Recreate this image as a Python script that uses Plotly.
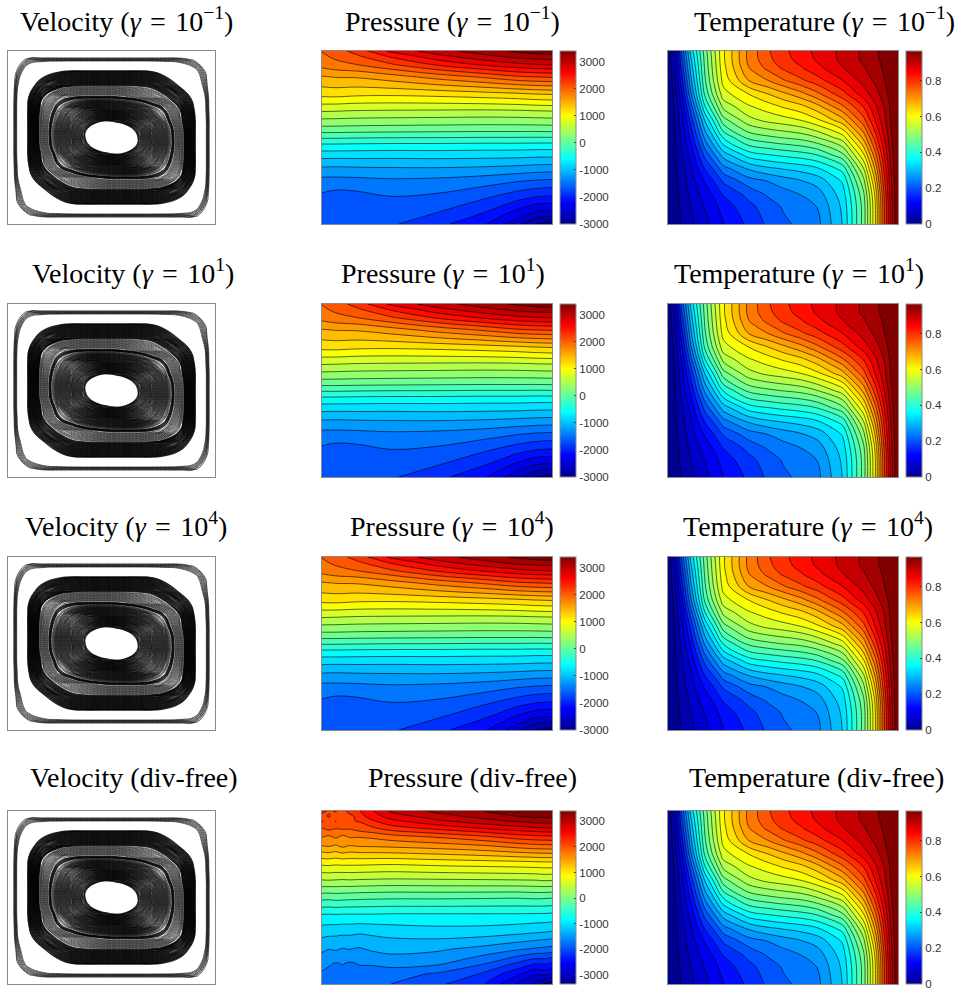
import plotly.graph_objects as go

W, H = 971, 992

# ---------- data ----------
PX = [0, .06, .15, .3, .5, .7, .85, .93, 1]
PY = [0, .03, .08, .15, .25, .35, .45, .55, .65, .75, .85, .93, 1]
PRESSURE = [
    [1950, 2050, 2250, 2650, 2950, 3150, 3300, 3370, 3400],
    [1900, 1990, 2120, 2420, 2750, 2980, 3120, 3160, 3180],
    [1800, 1870, 1930, 2120, 2400, 2620, 2750, 2800, 2820],
    [1480, 1510, 1520, 1620, 1800, 1970, 2120, 2160, 2180],
    [1130, 1140, 1110, 1100, 1130, 1180, 1230, 1270, 1290],
    [620, 610, 590, 580, 570, 560, 570, 590, 600],
    [100, 100, 90, 80, 70, 60, 60, 60, 70],
    [-560, -560, -570, -580, -580, -590, -590, -600, -600],
    [-1060, -1070, -1060, -1060, -1050, -1060, -1080, -1100, -1110],
    [-1440, -1440, -1430, -1400, -1420, -1480, -1560, -1600, -1620],
    [-1640, -1700, -1680, -1600, -1640, -1780, -1960, -2050, -2080],
    [-1700, -1740, -1720, -1680, -1790, -2000, -2300, -2470, -2500],
    [-1750, -1760, -1720, -1770, -1950, -2200, -2600, -2900, -3000],
]
DX = [0, .03, .06, .09, .12, .16, .22, .3, .5, .7, .85, .93, .97, 1]
DY = [0, .03, .06, .1, .15, .2, .3, .4, .5, .6, .7, .8, .88, .94, 1]
PRESSURE_DIVFREE = [
    [2150, 2050, 2100, 1980, 2200, 2280, 2500, 2780, 3020, 3180, 3320, 3380, 3390, 3400],
    [2000, 2110, 1960, 2080, 1990, 2200, 2420, 2620, 2870, 3040, 3180, 3230, 3240, 3250],
    [2100, 1950, 2090, 1950, 2060, 2090, 2260, 2450, 2680, 2860, 2980, 3030, 3040, 3050],
    [1850, 1930, 1870, 1900, 1880, 1960, 2040, 2190, 2360, 2530, 2640, 2700, 2720, 2730],
    [1650, 1590, 1680, 1580, 1660, 1650, 1680, 1750, 1880, 2030, 2180, 2230, 2240, 2250],
    [1420, 1450, 1400, 1480, 1420, 1450, 1460, 1480, 1540, 1630, 1750, 1800, 1810, 1820],
    [830, 840, 820, 835, 830, 830, 820, 810, 850, 880, 900, 920, 930, 930],
    [310, 320, 310, 300, 310, 300, 290, 280, 290, 300, 310, 320, 340, 330],
    [-260, -270, -250, -260, -270, -280, -290, -300, -300, -310, -320, -300, -310, -320],
    [-790, -800, -790, -800, -800, -800, -800, -810, -810, -810, -810, -820, -820, -830],
    [-1140, -1150, -1160, -1170, -1170, -1190, -1170, -1140, -1100, -1110, -1160, -1200, -1220, -1240],
    [-1390, -1440, -1420, -1460, -1440, -1470, -1410, -1380, -1410, -1520, -1640, -1700, -1730, -1750],
    [-1600, -1640, -1670, -1650, -1680, -1650, -1640, -1560, -1610, -1850, -2130, -2300, -2280, -2350],
    [-1680, -1700, -1700, -1710, -1720, -1710, -1730, -1800, -1900, -2120, -2480, -2720, -2650, -2780],
    [-1720, -1730, -1740, -1740, -1750, -1760, -1800, -1880, -2050, -2300, -2780, -3050, -3250, -3350],
]
TX = [0, .03, .06, .10, .16, .20, .24, .35, .43, .50, .58, .65, .76, .85, .90, .94, .97, 1]
TY = [0, .05, .1, .17, .25, .32, .4, .5, .6, .68, .75, .83, .9, 1]
TEMPERATURE = [
    [0, .08, .20, .33, .46, .535, .60, .71, .76, .79, .815, .84, .87, .90, .92, .935, .95, .967],
    [0, .07, .185, .315, .455, .53, .60, .71, .755, .785, .81, .835, .87, .90, .918, .935, .95, .967],
    [0, .06, .17, .30, .45, .525, .595, .70, .74, .77, .795, .82, .86, .89, .912, .93, .95, .967],
    [0, .05, .145, .28, .44, .515, .585, .67, .70, .73, .76, .785, .83, .875, .90, .925, .945, .967],
    [0, .04, .12, .25, .42, .49, .56, .605, .635, .66, .69, .725, .785, .845, .88, .91, .94, .967],
    [0, .035, .10, .21, .38, .45, .52, .57, .59, .61, .63, .66, .73, .80, .855, .895, .935, .967],
    [0, .03, .08, .17, .32, .39, .465, .53, .55, .56, .575, .60, .66, .755, .83, .885, .93, .967],
    [0, .027, .07, .135, .26, .32, .385, .455, .47, .48, .49, .51, .56, .68, .78, .86, .92, .967],
    [0, .025, .058, .105, .20, .25, .30, .365, .38, .39, .40, .415, .47, .60, .72, .83, .91, .967],
    [0, .022, .05, .09, .16, .195, .24, .29, .31, .32, .33, .345, .395, .54, .675, .805, .90, .967],
    [0, .02, .045, .08, .13, .16, .195, .24, .255, .27, .285, .30, .355, .50, .64, .79, .89, .967],
    [0, .018, .04, .07, .11, .13, .16, .20, .225, .24, .255, .27, .335, .47, .61, .77, .885, .967],
    [0, .016, .036, .062, .095, .115, .14, .18, .205, .225, .24, .255, .325, .46, .60, .76, .88, .967],
    [0, .015, .033, .054, .085, .105, .125, .165, .195, .215, .23, .245, .32, .46, .60, .76, .88, .967],
]
VX = [0, .04, .10, .17, .25, .31, .37, .44, .5, .56, .63, .69, .75, .83, .9, .96, 1]
VY = [0, .05, .12, .2, .27, .34, .41, .455, .5, .545, .59, .66, .73, .8, .88, .95, 1]
STREAM = [
    [0, 0, 0, 0, 0, 0, 0, 0, 0, 0, 0, 0, 0, 0, 0, 0, 0],
    [0, .018, .033, .035, .035, .035, .035, .035, .035, .035, .035, .035, .035, .034, .026, .012, 0],
    [0, .028, .058, .08, .095, .10, .10, .10, .10, .10, .10, .097, .085, .068, .05, .025, 0],
    [0, .036, .08, .118, .14, .147, .15, .15, .15, .15, .148, .143, .125, .092, .065, .03, 0],
    [0, .039, .096, .15, .19, .20, .205, .205, .205, .20, .19, .178, .16, .125, .085, .036, 0],
    [0, .04, .10, .165, .22, .255, .28, .29, .285, .275, .255, .23, .205, .15, .095, .038, 0],
    [0, .04, .10, .17, .24, .29, .335, .375, .38, .36, .32, .28, .23, .16, .10, .04, 0],
    [0, .04, .10, .17, .25, .31, .365, .435, .44, .415, .355, .30, .245, .168, .10, .04, 0],
    [0, .04, .10, .17, .25, .31, .372, .44, .50, .44, .372, .31, .25, .17, .10, .04, 0],
    [0, .04, .10, .168, .245, .30, .355, .415, .44, .435, .365, .31, .25, .17, .10, .04, 0],
    [0, .04, .10, .16, .23, .28, .32, .36, .38, .375, .335, .29, .24, .17, .10, .04, 0],
    [0, .038, .095, .15, .205, .23, .255, .275, .285, .29, .28, .255, .22, .165, .10, .04, 0],
    [0, .036, .085, .125, .16, .178, .19, .20, .205, .205, .205, .20, .19, .15, .096, .039, 0],
    [0, .03, .065, .092, .125, .143, .148, .15, .15, .15, .15, .147, .14, .118, .08, .036, 0],
    [0, .025, .05, .068, .085, .097, .10, .10, .10, .10, .10, .10, .095, .08, .058, .028, 0],
    [0, .012, .026, .034, .035, .035, .035, .035, .035, .035, .035, .035, .035, .035, .033, .018, 0],
    [0, 0, 0, 0, 0, 0, 0, 0, 0, 0, 0, 0, 0, 0, 0, 0, 0],
]
STREAM_LEVELS = [(.028, .043, .002), (.095, .150, .001), (.154, .194, .0028),
                 (.198, .209, .0012), (.214, .225, .0028), (.225, .375, .002)]
P_TICKS = [3000, 2000, 1000, 0, -1000, -2000, -3000]
P_TICKTEXT = ["3000", "2000", "1000", "0", "-1000", "-2000", "-3000"]
T_TICKS = [0, .2, .4, .6, .8]
T_TICKTEXT = ["0", "0.2", "0.4", "0.6", "0.8"]
ROW_LABELS = ["<i>γ</i>\u2004=\u200410<sup>−1</sup>", "<i>γ</i>\u2004=\u200410<sup>1</sup>",
              "<i>γ</i>\u2004=\u200410<sup>4</sup>", "div-free"]
P_RANGES = [(-3000, 3400), (-3000, 3400), (-3000, 3400), (-3350, 3400)]
T_RANGE = (0, .967)

# ---------- layout in pixels ----------
ROW_TOPS = [51, 304, 557, 811]
ROW_H = 173
V_BOX, P_BOX, T_BOX = (8, 215), (322, 552), (668, 898)
P_BAR_X, T_BAR_X = 560, 906
TITLE_CX = [[126, 452, 824], [133, 443, 799], [126, 452, 808], [134, 472, 816]]
TITLE_CY = [19, 271, 524, 777]

JET = [[0, "#00008f"], [1/8, "#0000ff"], [3/8, "#00ffff"], [5/8, "#ffff00"],
       [7/8, "#ff0000"], [1, "#800000"]]
AXIS = dict(showline=True, mirror=True, linecolor="#8a8a8a", linewidth=1, showgrid=False,
            zeroline=False, showticklabels=False, ticks="")

fig = go.Figure()
layout_axes = {}
count = 0


def add_axes(box, top):
    global count
    count += 1
    s = "" if count == 1 else str(count)
    layout_axes["xaxis" + s] = dict(AXIS, domain=[box[0] / W, box[1] / W], range=[0, 1], anchor="y" + s)
    layout_axes["yaxis" + s] = dict(AXIS, domain=[1 - (top + ROW_H) / H, 1 - top / H], range=[1, 0], anchor="x" + s)
    return "x" + s, "y" + s


def add_field(x, y, z, box, top, bar_x, zr, levels, ticks, ticktext):
    xa, ya = add_axes(box, top)
    fig.add_trace(go.Heatmap(
        x=x, y=y, z=z, zmin=zr[0], zmax=zr[1], colorscale=JET, xaxis=xa, yaxis=ya, hoverinfo="skip",
        colorbar=dict(x=bar_x / W, xanchor="left", xpad=0, ypad=0, thickness=16, lenmode="fraction",
                      len=ROW_H / H, y=1 - (top + ROW_H) / H, yanchor="bottom",
                      outlinecolor="#8a8a8a", outlinewidth=1, tickvals=ticks, ticktext=ticktext,
                      ticks="inside", ticklen=2, tickcolor="#333",
                      tickfont=dict(family="Liberation Sans", size=11.5, color="#333"))))
    fig.add_trace(go.Contour(
        x=x, y=y, z=z, zmin=zr[0], zmax=zr[1], colorscale=JET, showscale=False, xaxis=xa, yaxis=ya,
        hoverinfo="skip", contours=dict(start=levels[0], end=levels[1], size=levels[2], coloring="fill"),
        line=dict(color="rgba(0,0,0,.75)", width=.8, smoothing=1)))


for r, top in enumerate(ROW_TOPS):
    xa, ya = add_axes(V_BOX, top)
    for start, end, size in STREAM_LEVELS:
        fig.add_trace(go.Contour(
            x=VX, y=VY, z=STREAM, xaxis=xa, yaxis=ya, showscale=False, hoverinfo="skip",
            contours=dict(start=start, end=end, size=size, coloring="none"),
            line=dict(color="black", width=.6, smoothing=1.3)))
    if r < 3:
        add_field(PX, PY, PRESSURE, P_BOX, top, P_BAR_X, P_RANGES[r], (-2900, 3300, 220), P_TICKS, P_TICKTEXT)
    else:
        add_field(DX, DY, PRESSURE_DIVFREE, P_BOX, top, P_BAR_X, P_RANGES[r], (-3200, 3300, 220), P_TICKS, P_TICKTEXT)
    add_field(TX, TY, TEMPERATURE, T_BOX, top, T_BAR_X, T_RANGE, (.03, .95, .032), T_TICKS, T_TICKTEXT)

annotations = []
for r, label in enumerate(ROW_LABELS):
    for c, name in enumerate(["Velocity", "Pressure", "Temperature"]):
        annotations.append(dict(
            x=TITLE_CX[r][c] / W, y=1 - TITLE_CY[r] / H, xref="paper", yref="paper", showarrow=False,
            xanchor="center", yanchor="middle", text=f"{name} ({label})",
            font=dict(family="Liberation Serif", size=28, color="black")))

fig.update_layout(width=W, height=H, margin=dict(l=0, r=0, t=0, b=0), paper_bgcolor="white",
                  plot_bgcolor="white", showlegend=False, annotations=annotations, **layout_axes)
fig.write_html("out.html", config={"displayModeBar": False},
               post_script="document.body.style.margin='0';")
